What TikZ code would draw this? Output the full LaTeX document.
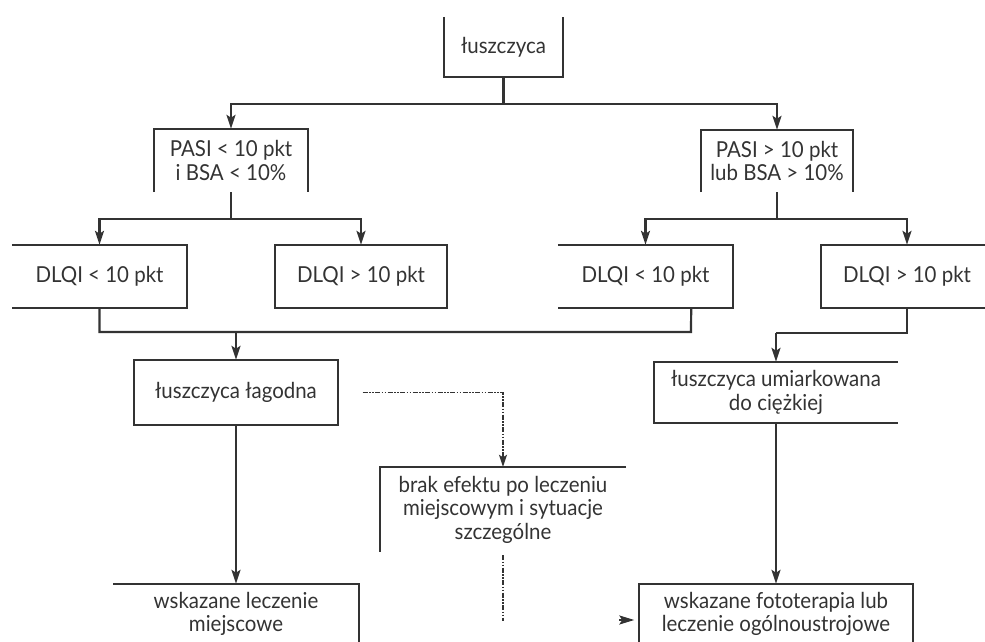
\documentclass[tikz,border=0pt]{standalone}
\usepackage{fontspec}
\setmainfont[FakeStretch=0.93]{Lato}
\usetikzlibrary{arrows.meta}
\begin{document}
\begin{tikzpicture}[x=1pt,y=-1pt,
  lbl/.style={inner sep=0pt, align=center, text=black!80, font=\fontsize{22}{23.5}\selectfont},
  ln/.style={line width=2.2pt, draw=black!80},
  arr/.style={ln, -{Stealth[length=14pt,width=9pt,inset=3pt]}},
  dl/.style={line width=1.6pt, draw=black!80, dash pattern=on 5pt off 1.5pt on 1.5pt off 1.5pt on 1.5pt off 1.5pt}]
\useasboundingbox (0,0) rectangle (985,642);
\coordinate (E) at (985,0);
% nodes
\node[lbl, minimum width=119pt, minimum height=60pt] (top) at (503.5,47) {łuszczyca};
\node[lbl, minimum width=154pt, minimum height=63pt] (pasiL) at (231,160.5) {PASI < 10 pkt\\i BSA < 10\%};
\node[lbl, minimum width=152pt, minimum height=62pt] (pasiR) at (777,161) {PASI > 10 pkt\\lub BSA > 10\%};
\node[lbl, minimum width=175pt, minimum height=63pt] (dlqi1) at (99.5,276.5) {DLQI < 10 pkt};
\node[lbl, minimum width=172pt, minimum height=63pt] (dlqi2) at (361,276.5) {DLQI > 10 pkt};
\node[lbl, minimum width=175pt, minimum height=63pt] (dlqi3) at (645.5,276.5) {DLQI < 10 pkt};
\node[lbl, minimum width=172pt, minimum height=63pt] (dlqi4) at (907,276.5) {DLQI > 10 pkt};
\node[lbl, minimum width=203pt, minimum height=65pt] (lagodna) at (236,392.5) {łuszczyca łagodna};
\node[lbl, minimum width=244pt, minimum height=61pt] (umiark) at (776,392.5) {łuszczyca umiarkowana\\do ciężkiej};
\node[lbl, minimum width=246pt, minimum height=85pt] (brak) at (503,509.5) {brak efektu po leczeniu\\miejscowym i sytuacje\\szczególne};
\node[lbl, minimum width=245pt, minimum height=60pt] (lecz) at (236,614) {wskazane leczenie\\miejscowe};
\node[lbl, minimum width=273pt, minimum height=60pt] (fotot) at (776,614) {wskazane fototerapia lub\\leczenie ogólnoustrojowe};
% visible borders
\draw[ln] (top.north west) -- (top.south west) -- (top.south east) -- (top.north east);
\draw[ln] (pasiL.south west) -- (pasiL.north west) -- (pasiL.north east) -- (pasiL.south east);
\draw[ln] (pasiR.south west) -- (pasiR.north west) -- (pasiR.north east) -- (pasiR.south east);
\draw[ln] (dlqi1.north west) -- (dlqi1.north east) -- (dlqi1.south east) -- (dlqi1.south west);
\draw[ln] (dlqi2.north west) rectangle (dlqi2.south east);
\draw[ln] (dlqi3.north west) -- (dlqi3.north east) -- (dlqi3.south east) -- (dlqi3.south west);
\draw[ln] (dlqi4.north -| E) -- (dlqi4.north west) -- (dlqi4.south west) -- (dlqi4.south -| E);
\draw[ln] (lagodna.north west) rectangle (lagodna.south east);
\draw[ln] (umiark.north east) -- (umiark.north west) -- (umiark.south west) -- (umiark.south east);
\draw[ln] (brak.north east) -- (brak.north west) -- (brak.south west);
\draw[ln] (lecz.north west) -- (lecz.north east) -- (lecz.south east);
\draw[ln] (fotot.south west) -- (fotot.north west) -- (fotot.north east) -- (fotot.south east);
% connectors
\coordinate (j1) at (503.5,104);
\draw[ln] (top.south) -- (j1);
\draw[arr] (j1) -| (pasiL.north);
\draw[arr] (j1) -| (pasiR.north);
\coordinate (j2) at (231,219);
\draw[ln] (pasiL.south) -- (j2);
\draw[arr] (j2) -| (dlqi1.north);
\draw[arr] (j2) -| (dlqi2.north);
\coordinate (j3) at (777,219);
\draw[ln] (pasiR.south) -- (j3);
\draw[arr] (j3) -| (dlqi3.north);
\draw[arr] (j3) -| (dlqi4.north);
\coordinate (d3b) at ([xshift=-42pt]dlqi3.south east);
\coordinate (j4) at (691,332);
\draw[ln] (dlqi1.south) |- (j4) -- (d3b);
\draw[arr] (lagodna.north |- j4) -- (lagodna.north);
\coordinate (j5) at (776,333);
\draw[ln] (dlqi4.south) |- (j5);
\draw[arr] (j5) -- (umiark.north);
\draw[arr] (lagodna.south) -- (lecz.north);
\draw[arr] (umiark.south) -- (fotot.north);
% dotted
\draw[dl, -{Stealth[length=12pt,width=8pt,inset=2.5pt]}] ([xshift=25pt]lagodna.east) -| (brak.north);
\coordinate (k1) at (503,621);
\draw[dl] ([yshift=-3pt]brak.south) -- (k1);
\coordinate (k2) at (0,620);
\draw[ln, -{Stealth[length=15pt,width=9pt,inset=3pt]}] ([xshift=-20pt]fotot.west |- k2) -- ([xshift=-5pt]fotot.west |- k2);
\end{tikzpicture}
\end{document}
